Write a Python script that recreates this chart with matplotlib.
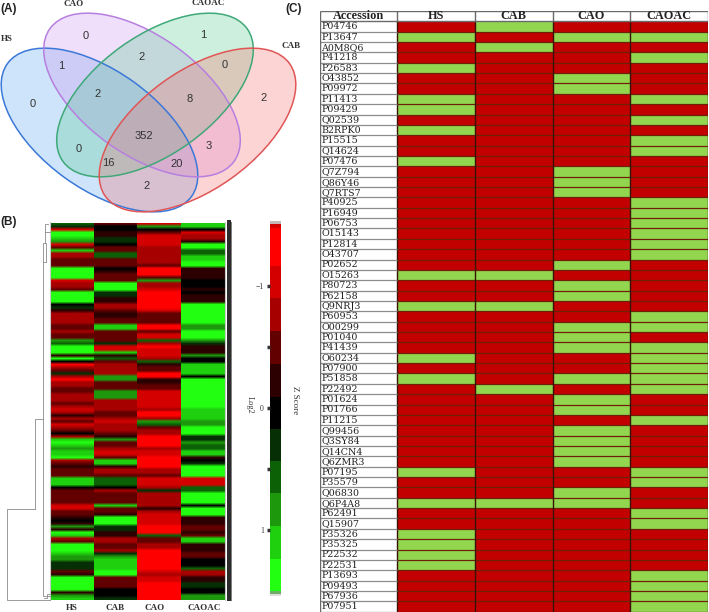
"""Three panel figure: Venn diagram, expression heatmap and presence table."""

import matplotlib
matplotlib.use("Agg")
import matplotlib.pyplot as plt
from matplotlib.cm import ScalarMappable
from matplotlib.colors import BoundaryNorm, ListedColormap
from matplotlib.patches import Ellipse, Rectangle
import numpy as np

W, H = 709, 612
SERIF = "Liberation Serif"
SANS = "Liberation Sans"

# --- panel A ---
VENN_SETS = ["HS", "CAO", "CAOAC", "CAB"]
VENN_COUNTS = [0, 1, 1, 2, 0, 0, 2, 8, 2, 352, 0, 3, 16, 20, 2]
VENN_COUNT_XY = [(86, 36), (203, 35), (61, 66), (142, 57), (225, 65), (33, 104),
                 (98, 94), (190, 99), (264, 98), (144, 136), (79, 149), (209, 146),
                 (108, 163), (177, 164), (147, 186)]

# --- panel B: one value per row, top to bottom ---
HEAT_LABELS = ["HS", "CAB", "CAO", "CAOAC"]
HEAT_HS = [0.6, 0.2, -1.0, 1.5, 1.5, 1.0, 0.7, -1.0, -0.5, 1.0, -0.9, -0.7, -0.4, -0.5, -0.4,
           1.5, 1.5, 1.5, 1.5, -1.0, -0.7, -0.7, -0.5, 1.3, 1.5, 1.5, 1.5, 0.15, 0.3, -0.2,
           -0.8, -0.9, -0.7, -0.7, -0.5, -0.5, -0.7, -0.4, -0.4, 0.9, 0.5, 1.5, 1.5, 1.5, -0.2,
           1.4, 0.1, -1.4, -0.8, -0.5, 0.3, -0.7, -1.5, -0.8, -0.7, -0.6, -0.6, -0.9, -0.9, -0.8,
           -0.5, -0.9, -1.0, -0.8, -0.2, -0.8, -0.5, -1.0, -0.9, -0.6, 0.0, -0.7, 1.0, 1.3, 1.0,
           0.8, 1.0, 1.2, 1.5, -0.7, -0.5, -0.2, -0.4, -0.5, -0.4, 1.2, 1.2, 1.2, 0.1, -0.6,
           -0.4, -0.4, -0.4, -0.5, -1.1, -1.1, -0.5, -0.4, -0.2, 0.0, -0.2, 0.7, -0.2, 1.4, 1.0,
           -0.8, -0.4, 1.5, 1.5, 1.4, 1.1, 0.9, 0.7, 0.3, 0.3, 0.2, -0.4, -0.2, 1.5, 1.5,
           1.4, 1.5, 1.3, -0.2, 0.9, 1.2]
HEAT_CAB = [-0.5, 0.15, 0.15, -0.2, -0.2, 0.4, 0.3, 0.15, -0.6, -0.6, 0.6, 0.5, -0.5, -0.5, -0.4,
            0.0, -0.2, -0.6, -0.6, -0.6, 1.5, 1.5, 1.5, 0.3, 0.3, -0.2, -0.2, -0.7, -0.7, -0.6,
            -0.2, -0.2, -0.5, -0.5, 1.1, 1.1, -0.5, -0.4, -0.5, -0.6, 0.3, -1.0, -1.0, 1.2, -0.2,
            0.5, -0.6, -0.7, -0.7, -0.7, -0.7, 0.9, 0.7, -0.6, -0.6, -0.5, 0.9, 0.9, 0.9, -0.7,
            -0.7, -0.7, -0.9, -0.5, -0.5, -0.9, -1.0, -0.9, -0.9, -0.7, -0.4, -0.2, 0.7, -0.6, -0.6,
            -0.7, -1.0, -1.0, -0.4, 1.2, 1.2, -0.2, -0.7, -0.7, -0.6, 0.6, 0.6, 0.6, 0.0, -0.9,
            -0.5, -0.5, -0.5, -0.5, 1.1, -0.4, -0.4, -0.2, 1.5, 1.5, 1.5, 0.2, 0.3, -0.2, -0.2,
            -0.9, -0.8, -0.5, -0.5, -0.8, 0.3, 0.8, 1.0, 1.0, 1.2, 1.2, 1.5, 1.5, -0.4, -0.5,
            -0.5, -0.5, 0.1, 0.15, 0.1, 0.2]
HEAT_CAO = [-1.0, 0.9, 0.0, -0.6, -1.1, -1.1, -1.1, -1.1, -0.8, -0.7, -0.8, -0.9, -0.9, -0.9, -0.6,
            -1.2, -1.2, -1.2, -0.5, 0.9, -0.9, -0.9, -1.0, -1.4, -1.4, -1.2, -1.2, -1.2, -1.2, -1.1,
            -0.6, -0.6, -0.6, -0.5, -1.5, -1.5, -0.6, -1.1, -1.1, 0.6, -0.8, -1.4, -1.0, -1.0, -1.0,
            -0.9, 0.5, -0.1, -0.5, -0.5, -1.2, -1.2, -0.2, -0.1, -0.4, -0.5, -1.0, -1.0, -1.0, -1.0,
            -1.0, -1.0, -0.7, -1.4, -1.4, -0.8, 0.7, 0.6, -0.6, -0.8, -0.9, -1.5, -1.5, -1.2, -1.2,
            -0.9, -1.1, -1.1, -1.3, -1.3, -1.3, -1.3, -0.7, -0.7, -0.6, -1.0, -1.0, -1.0, -0.8, 0.3,
            -0.9, -0.9, -0.9, -0.9, -0.8, -0.3, -0.9, -1.0, -1.0, -1.0, -1.0, -1.3, -1.3, -1.3, 0.6,
            -0.4, -0.5, -0.9, -0.9, -1.4, -1.4, -1.5, -1.5, -1.5, -1.5, -1.5, -1.1, -0.9, -1.0, -1.0,
            -1.5, -1.5, -1.2, -1.2, -1.2, -1.2]
HEAT_CAOAC = [1.0, 1.0, 0.0, -1.0, -0.7, -0.7, -0.3, 1.5, 1.5, 0.5, 0.5, 1.0, 1.0, 1.5, 1.5,
              -0.3, -0.3, -0.3, -0.2, 0.0, 0.0, 0.0, -0.3, 0.1, -0.3, -0.3, -0.3, 1.5, 1.5, 1.5,
              1.5, 1.5, 1.5, 1.5, 0.9, 0.9, 1.5, 1.5, 1.5, 0.8, 0.2, -0.3, -0.3, -0.2, 0.7,
              0.0, 0.0, 1.2, 1.2, 1.2, 1.2, 0.1, 1.5, 1.5, 1.5, 1.5, 1.3, 1.5, 1.5, 1.5,
              1.5, 1.5, 1.1, 1.2, 1.2, 1.0, 0.7, 0.7, 1.5, 1.5, 1.5, 0.2, 0.2, 0.7, 0.6,
              0.6, 1.0, 1.0, -0.2, 0.1, 0.3, 1.3, 1.3, 1.4, 1.4, -1.1, -1.1, -1.1, 0.6, 0.5,
              1.5, 1.5, 1.5, 1.5, 0.05, 1.5, 1.5, 1.4, -0.3, -0.3, -0.3, -0.4, -0.4, -0.3, -0.4,
              1.2, 1.2, -0.2, -0.2, -0.3, -0.5, -0.5, 0.0, 0.0, 0.0, 0.6, -0.7, -0.7, -0.3, -0.3,
              0.4, 0.3, 0.05, 0.05, 0.9, 0.9]
BAR_COLORS = ["#ff0000", "#d40000", "#a60000", "#620000", "#2c0000", "#000000",
              "#062f06", "#0c6006", "#1d980c", "#1fd00e", "#22ff10"]
BAR_EDGES = [-1.475, -1.164, -0.902, -0.631, -0.361, -0.09,
             0.172, 0.434, 0.697, 0.967, 1.238, 1.5]
BAR_TICKS = [-1, -0.5, 0, 0.5, 1]
BAR_TICK_LABELS = ["\u22121", "", "0", "", "1"]

# --- panel C: groups flagged green for each accession ---
TABLE_COLS = ["HS", "CAB", "CAO", "CAOAC"]
ACCESSIONS = ["P04746", "P13647", "A0M8Q6", "P41218", "P26583", "O43852", "P09972", "P11413",
              "P09429", "Q02539", "B2RPK0", "P15515", "Q14624", "P07476", "Q7Z794", "Q86Y46",
              "Q7RTS7", "P40925", "P16949", "P06753", "O15143", "P12814", "O43707", "P02652",
              "O15263", "P80723", "P62158", "Q9NRJ3", "P60953", "O00299", "P01040", "P41439",
              "O60234", "P07900", "P51858", "P22492", "P01624", "P01766", "P11215", "Q99456",
              "Q3SY84", "Q14CN4", "Q6ZMR3", "P07195", "P35579", "Q06830", "Q6P4A8", "P62491",
              "Q15907", "P35326", "P35325", "P22532", "P22531", "P13693", "P09493", "P67936",
              "P07951"]
GREEN_HS = [0, 1, 0, 0, 1, 0, 0, 1, 1, 0, 1, 0, 0, 1, 0, 0, 0, 0, 0, 0, 0, 0, 0, 0, 1, 0, 0, 1, 0,
            0, 0, 0, 1, 0, 1, 0, 0, 0, 0, 0, 0, 0, 0, 1, 0, 0, 1, 0, 0, 1, 1, 1, 1, 0, 0, 0, 0]
GREEN_CAB = [1, 0, 1, 0, 0, 0, 0, 0, 0, 0, 0, 0, 0, 0, 0, 0, 0, 0, 0, 0, 0, 0, 0, 0, 1, 0, 0, 1, 0,
             0, 0, 0, 0, 0, 0, 1, 0, 0, 0, 0, 0, 0, 0, 0, 0, 0, 1, 0, 0, 0, 0, 0, 0, 0, 0, 0, 0]
GREEN_CAO = [0, 1, 0, 0, 0, 1, 1, 0, 0, 0, 0, 0, 0, 0, 1, 1, 1, 0, 0, 0, 0, 0, 0, 1, 0, 1, 1, 0, 0,
             1, 1, 1, 0, 0, 1, 0, 1, 1, 0, 1, 1, 1, 1, 0, 0, 1, 1, 0, 0, 0, 0, 0, 0, 0, 0, 0, 0]
GREEN_CAOAC = [0, 1, 0, 1, 0, 0, 0, 1, 0, 1, 0, 1, 1, 0, 0, 0, 0, 1, 1, 1, 1, 1, 1, 0, 0, 0, 0, 0, 1,
               1, 0, 1, 1, 1, 1, 1, 0, 0, 1, 0, 0, 0, 0, 1, 1, 0, 0, 1, 1, 0, 0, 0, 0, 1, 1, 1, 1]


def px_axes(left, top, right, bottom):
    return fig.add_axes([left / W, 1 - bottom / H, (right - left) / W, (bottom - top) / H])


fig = plt.figure(figsize=(W / 100, H / 100), dpi=100, facecolor="white")

# full-figure axes in pixel coordinates for the free-standing bits
ov = fig.add_axes([0, 0, 1, 1], zorder=3)
ov.set_xlim(0, W)
ov.set_ylim(H, 0)
ov.axis("off")
ov.patch.set_alpha(0)

for txt, x, y in [("(A)", 9, 9), ("(B)", 9, 222), ("(C)", 294, 9)]:
    ov.text(x, y, txt, family=SANS, weight="bold", fontsize=8.5, ha="center", va="center", color="#222222")

# venn
ellipses = [((99.5, 130), 35.8, "#4a9cf0", "#3b78d8"),
            ((142, 95), 35.8, "#c98cf2", "#b67fe0"),
            ((155, 95), -35.8, "#48c888", "#3fa878"),
            ((197.5, 130), -35.8, "#f86060", "#e05555")]
for xy, ang, fc, ec in ellipses:
    ov.add_patch(Ellipse(xy, 227, 118, angle=ang, fc=fc, ec="none", alpha=0.27))
for xy, ang, fc, ec in ellipses:
    ov.add_patch(Ellipse(xy, 227, 118, angle=ang, fc="none", ec=ec, lw=1.1))
for n, (x, y) in zip(VENN_COUNTS, VENN_COUNT_XY):
    ov.text(x, y, str(n), family=SANS, fontsize=8, ha="center", va="center", color="#333333")
for name, (x, y) in zip(VENN_SETS, [(7, 39), (74, 4), (208, 3), (291, 46)]):
    ov.text(x, y, name, family=SERIF, weight="bold", fontsize=6.5, ha="center", va="center", color="#333333")

# heatmap
cmap = ListedColormap(BAR_COLORS)
norm = BoundaryNorm(BAR_EDGES, cmap.N, clip=True)
hm = px_axes(50, 223, 224, 600)
for i, col in enumerate([HEAT_HS, HEAT_CAB, HEAT_CAO, HEAT_CAOAC]):
    hm.imshow(np.array(col).reshape(-1, 1), cmap=cmap, norm=norm, aspect="auto",
              extent=(i, i + 1, len(col), 0), interpolation="bilinear", interpolation_stage="rgba")
hm.set_xlim(0, 4)
hm.set_ylim(len(HEAT_HS), 0)
hm.axis("off")
for name, x in zip(HEAT_LABELS, [72, 115, 155, 204]):
    ov.text(x, 608.5, name, family=SERIF, weight="bold", fontsize=6.5, ha="center", va="center", color="#333333")

# row label strip right of the heatmap
ov.add_patch(Rectangle((227, 220), 3.5, 381, fc="#2b2b2b", ec="none"))
ov.add_patch(Rectangle((230.5, 222), 1.5, 379, fc="#808080", ec="none"))
ov.plot([49.5, 49.5], [222, 600], color="#c8c8c8", lw=0.8)
ov.plot([224.5, 224.5], [222, 600], color="#c8c8c8", lw=0.8)

# dendrogram
for xs, ys in [([50, 7, 7, 35], [600, 600, 509, 509]),
               ([35, 35, 43, 43, 50], [509, 419, 419, 596, 596]),
               ([43, 43, 46, 46], [419, 243, 243, 262]),
               ([43, 46], [262, 262]),
               ([45, 45, 48], [243, 224, 224]),
               ([45, 50], [232, 232]),
               ([44, 47, 47, 50], [598, 598, 594, 594])]:
    ov.plot(xs, ys, color="#8a8a8a", lw=0.6, solid_joinstyle="miter")

# colour bar
cax = px_axes(270, 228, 281, 591)
cbar = fig.colorbar(ScalarMappable(norm=norm, cmap=cmap), cax=cax, ticks=BAR_TICKS, spacing="proportional")
cax.invert_yaxis()
cax.yaxis.set_ticks_position("left")
cbar.set_ticklabels(BAR_TICK_LABELS)
cbar.outline.set_visible(False)
cax.minorticks_off()
cax.tick_params(axis="y", length=2, width=2.5, pad=2.5, labelsize=5.5, colors="#333333")
for t in cax.get_yticklabels():
    t.set_family(SERIF)
ov.add_patch(Rectangle((270, 221), 11, 3, fc="#c4b8b8", ec="none"))
ov.add_patch(Rectangle((270, 224), 11, 4, fc="#d40000", ec="none"))
ov.add_patch(Rectangle((270, 591), 11, 3, fc="#6fae68", ec="none"))
ov.add_patch(Rectangle((270, 594), 11, 2, fc="#dddddd", ec="none"))
ov.text(250, 405, "Log2", family=SERIF, fontsize=6, rotation=-90, ha="center", va="center", color="#333333")
ov.text(295, 400, "Z Score", family=SERIF, fontsize=6.5, rotation=-90, ha="center", va="center", color="#333333")

# table: first column is the accession, last four the coloured cells
n_rows = len(ACCESSIONS)
tb = px_axes(319.5, 11, 708, 611.7)
cells = np.column_stack([GREEN_HS, GREEN_CAB, GREEN_CAO, GREEN_CAOAC])
tb.pcolormesh(np.arange(1, 6), np.arange(n_rows + 1), cells,
              cmap=ListedColormap(["#c20000", "#92d650"]), vmin=0, vmax=1)
tb.hlines(np.arange(1, n_rows + 1), 1, 5, color="#6d2208", lw=0.9)
tb.vlines(np.arange(1, 6), 0, n_rows, color="#3a1204", lw=1.0)
tb.hlines(np.arange(1, n_rows + 1), 0, 1, color="#8c8c8c", lw=0.9)
tb.vlines(np.arange(0, 6), -1, 0, color="#6a6a6a", lw=1.0)
tb.hlines([-1, 0], 0, 5, color="#6a6a6a", lw=1.0)
tb.vlines(0, 0, n_rows, color="#6a6a6a", lw=1.0)
tb.set_xlim(0, 5)
tb.set_ylim(n_rows, -1)
tb.axis("off")
tb.text(0.5, -0.47, "Accession", family=SERIF, weight="bold", fontsize=8.8, ha="center", va="center", color="#222222")
for i, name in enumerate(TABLE_COLS):
    tb.text(i + 1.5, -0.47, name, family=SERIF, weight="bold", fontsize=8.8, ha="center", va="center", color="#222222")
for i, acc in enumerate(ACCESSIONS):
    tb.text(0.02, i + 0.52, acc, family="DejaVu Serif", fontsize=6.8, ha="left", va="center", color="#222222")

fig.savefig("out.png", dpi=100)
